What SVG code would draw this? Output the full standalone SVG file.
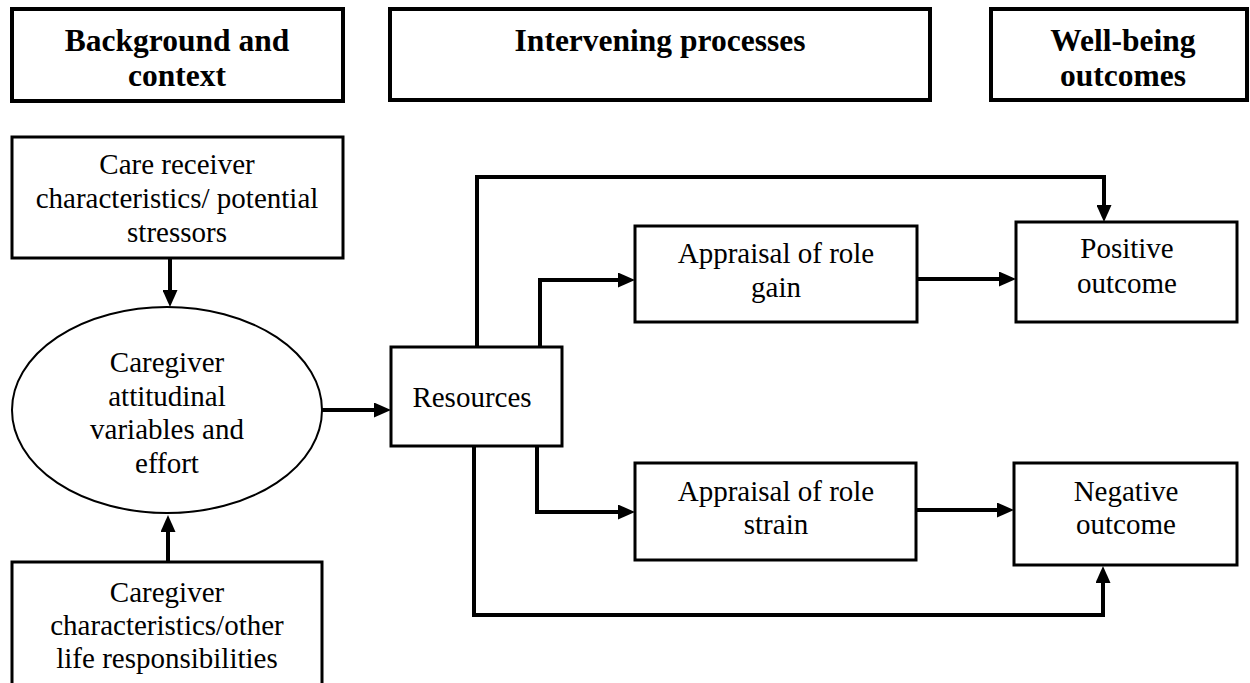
<svg xmlns="http://www.w3.org/2000/svg" width="1250" height="683" viewBox="0 0 1250 683">
  <style>
    .hdr { fill: #fff; stroke: #000; stroke-width: 4; }
    .box { fill: #fff; stroke: #000; stroke-width: 3; }
    .ell { fill: #fff; stroke: #000; stroke-width: 2; }
    .ht { font-weight: bold; font-size: 31.5px; text-anchor: middle; fill: #000; }
    .t { font-size: 29px; text-anchor: middle; fill: #000; }
    .c { fill: none; stroke: #000; stroke-width: 4; stroke-linejoin: miter; }
  </style>
  <defs>
    <marker id="arr" viewBox="0 -7.5 17 15" refX="0" refY="0" markerWidth="17" markerHeight="15" markerUnits="userSpaceOnUse" orient="auto">
      <path d="M0,-7.5 L17,0 L0,7.5 z" fill="#000"/>
    </marker>
  </defs>

  <g font-family="'Liberation Serif', 'DejaVu Serif', serif">
  <g id="hdr-background">
    <rect class="hdr" x="12" y="9" width="331" height="92"/>
    <text class="ht" x="177" y="51">Background and</text>
    <text class="ht" x="177" y="86">context</text>
  </g>
  <g id="hdr-intervening">
    <rect class="hdr" x="390" y="9" width="540" height="91"/>
    <text class="ht" x="660" y="51">Intervening processes</text>
  </g>
  <g id="hdr-wellbeing">
    <rect class="hdr" x="991" y="9" width="256" height="91"/>
    <text class="ht" x="1123" y="51">Well-being</text>
    <text class="ht" x="1123" y="86">outcomes</text>
  </g>

  <g id="connectors">
    <path class="c" d="M170,258 V290" marker-end="url(#arr)"/>
    <path class="c" d="M168,562 V532" marker-end="url(#arr)"/>
    <path class="c" d="M322,410 H374" marker-end="url(#arr)"/>
    <path class="c" d="M477,347 V177 H1104 V205" marker-end="url(#arr)"/>
    <path class="c" d="M540,347 V280 H618" marker-end="url(#arr)"/>
    <path class="c" d="M537,447 V512 H618" marker-end="url(#arr)"/>
    <path class="c" d="M474,447 V615 H1103 V583" marker-end="url(#arr)"/>
    <path class="c" d="M918,279 H999" marker-end="url(#arr)"/>
    <path class="c" d="M916,510 H997" marker-end="url(#arr)"/>
  </g>

  <g id="care-receiver">
    <rect class="box" x="12" y="137" width="331" height="121"/>
    <text class="t" x="177" y="174">Care receiver</text>
    <text class="t" x="177" y="208">characteristics/ potential</text>
    <text class="t" x="177" y="242">stressors</text>
  </g>
  <g id="caregiver-attitudinal">
    <ellipse class="ell" cx="167" cy="410" rx="155" ry="103"/>
    <text class="t" x="167" y="372">Caregiver</text>
    <text class="t" x="167" y="406">attitudinal</text>
    <text class="t" x="167" y="439">variables and</text>
    <text class="t" x="167" y="473">effort</text>
  </g>
  <g id="caregiver-characteristics">
    <rect class="box" x="12" y="562" width="310" height="140"/>
    <text class="t" x="167" y="602">Caregiver</text>
    <text class="t" x="167" y="635">characteristics/other</text>
    <text class="t" x="167" y="668">life responsibilities</text>
  </g>
  <g id="resources">
    <rect class="box" x="391" y="347" width="171" height="99"/>
    <text class="t" x="472" y="407">Resources</text>
  </g>
  <g id="appraisal-gain">
    <rect class="box" x="635" y="226" width="282" height="96"/>
    <text class="t" x="776" y="263">Appraisal of role</text>
    <text class="t" x="776" y="297">gain</text>
  </g>
  <g id="positive-outcome">
    <rect class="box" x="1016" y="222" width="221" height="100"/>
    <text class="t" x="1127" y="258">Positive</text>
    <text class="t" x="1127" y="293">outcome</text>
  </g>
  <g id="appraisal-strain">
    <rect class="box" x="635" y="463" width="281" height="97"/>
    <text class="t" x="776" y="501">Appraisal of role</text>
    <text class="t" x="776" y="534">strain</text>
  </g>
  <g id="negative-outcome">
    <rect class="box" x="1014" y="463" width="223" height="102"/>
    <text class="t" x="1126" y="501">Negative</text>
    <text class="t" x="1126" y="534">outcome</text>
  </g>
  </g>
</svg>
